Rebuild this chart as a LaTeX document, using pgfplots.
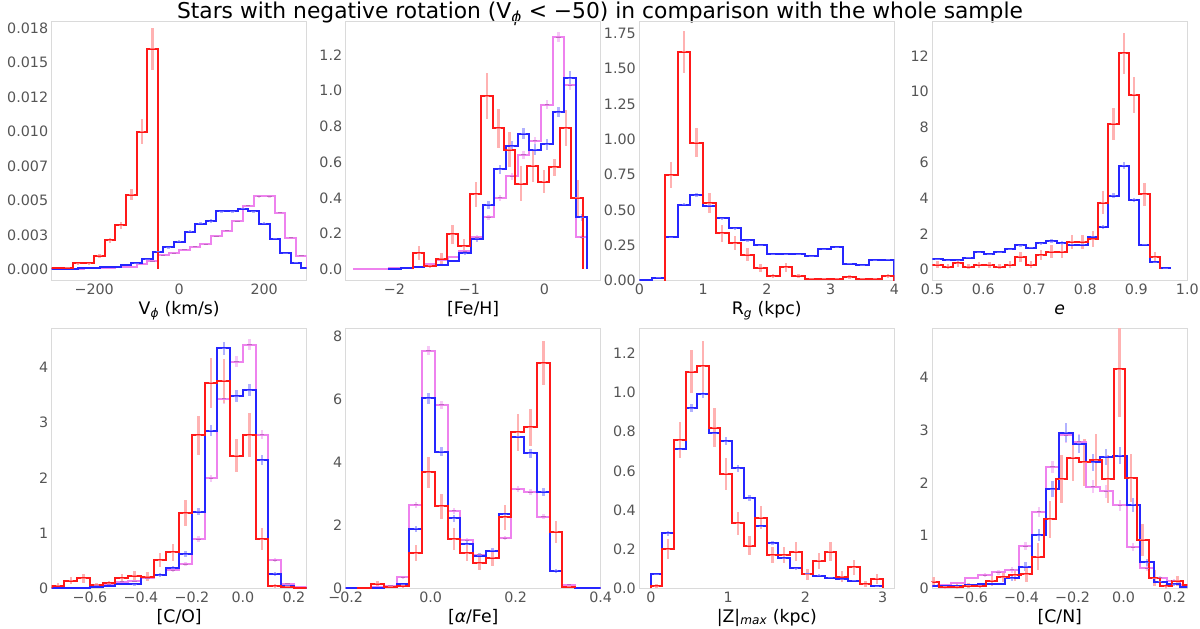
\documentclass[border=0pt]{standalone}
\usepackage{fontspec}
\setmainfont{DejaVu Sans}
\usepackage{pgfplots}
\pgfplotsset{compat=1.18}
\definecolor{vio}{HTML}{EE82EE}
\definecolor{tickc}{HTML}{555555}
\definecolor{spine}{HTML}{DADADA}
\colorlet{lred}{red!90!white}
\colorlet{lblue}{blue!85!white}
\colorlet{erred}{red!30!white}
\colorlet{erblue}{blue!30!white}
\colorlet{ervio}{vio!45!white}
\colorlet{mkred}{red!55!white}
\colorlet{mkblue}{blue!60!white}
\colorlet{mkvio}{vio!80!black}
\pgfplotsset{
  panel/.style={scale only axis, width=255pt, anchor=south west,
    axis line style={draw=spine, line width=1pt},
    major tick length=0pt, tick style={draw=none},
    scaled x ticks=false, scaled y ticks=false,
    tick label style={font=\fontsize{14.3pt}{17pt}\selectfont, text=tickc},
    xlabel style={font=\fontsize{17.3pt}{21pt}\selectfont, at={(axis description cs:0.5,-0.131)}, anchor=base}},
  hr/.style={draw=lred, line width=2pt, mark=none, sharp plot},
  hb/.style={draw=lblue, line width=2pt, mark=none, sharp plot},
  hv/.style={draw=vio, line width=2pt, mark=none, sharp plot},
  er/.style 2 args={only marks, mark=-, mark size=2.2pt, mark options={draw=#2, line width=1pt},
    error bars/y dir=both, error bars/y explicit, error bars/error mark=none,
    error bars/error bar style={draw=#1, line width=2.4pt}},
  err/.style={er={erred}{mkred}},
  erb/.style={er={erblue}{mkblue}},
  erv/.style={er={ervio}{mkvio}},
}
\begin{document}
\begin{tikzpicture}
\useasboundingbox (0,0) rectangle (1200pt,629pt);
\node[anchor=base, font=\fontsize{21.8pt}{25pt}\selectfont] at (600pt,610.7pt) {Stars with negative rotation (V\textsubscript{\textit{ϕ}} < −50) in comparison with the whole sample};

% ---------- Panel 1: V_phi
\begin{axis}[panel, height=259pt, at={(51.7pt,348.3pt)},
  xmin=-300, xmax=300, ymin=-0.00083, ymax=0.01798,
  xtick={-200,0,200}, xticklabels={−200,0,200},
  ytick={0,0.0025,0.005,0.0075,0.01,0.0125,0.015,0.0175},
  yticklabels={0.000,0.003,0.005,0.007,0.010,0.012,0.015,0.018},
  xlabel={V\textsubscript{\textit{ϕ}} (km/s)}]
\addplot[erv] coordinates {(-62.5,0.0006)+-(0,0.00004)(-37.5,0.0010)+-(0,0.00005)(-12.5,0.00116)+-(0,0.00005)(12.5,0.0014)+-(0,0.00006)(37.5,0.00165)+-(0,0.00006)(62.5,0.0018)+-(0,0.00006)(87.5,0.0024)+-(0,0.00007)(112.5,0.0028)+-(0,0.00007)(137.5,0.0035)+-(0,0.00008)(162.5,0.0046)+-(0,0.00009)(187.5,0.0053)+-(0,0.0001)(212.5,0.0053)+-(0,0.0001)(237.5,0.0041)+-(0,0.00009)(262.5,0.0023)+-(0,0.00007)(287.5,0.00097)+-(0,0.00005)};
\addplot[erb] coordinates {(-100,0.00045)+-(0,0.00005)(-75,0.00073)+-(0,0.00006)(-50,0.00128)+-(0,0.00008)(-25,0.0016)+-(0,0.0001)(0,0.002)+-(0,0.0001)(25,0.00274)+-(0,0.00012)(50,0.0033)+-(0,0.00012)(75,0.0035)+-(0,0.00012)(100,0.0042)+-(0,0.00013)(125,0.0042)+-(0,0.00013)(150,0.0044)+-(0,0.00013)(175,0.0042)+-(0,0.00013)(200,0.0033)+-(0,0.00012)(225,0.0022)+-(0,0.0001)(250,0.00116)+-(0,0.00008)(275,0.00048)+-(0,0.00005)};
\addplot[err] coordinates {(-262.5,0.0001)+-(0,0.00005)(-237.5,0.00044)+-(0,0.0001)(-212.5,0.00044)+-(0,0.0001)(-187.5,0.00097)+-(0,0.00015)(-162.5,0.0021)+-(0,0.0002)(-137.5,0.0032)+-(0,0.00025)(-112.5,0.0054)+-(0,0.0004)(-87.5,0.0100)+-(0,0.0009)(-62.5,0.0160)+-(0,0.0015)};
\addplot[hv] coordinates {(-325,0)(-325,0.00002)(-275,0.00002)(-275,0.00003)(-250,0.00003)(-250,0.00004)(-225,0.00004)(-225,0.00006)(-200,0.00006)(-200,0.00008)(-175,0.00008)(-175,0.0001)(-150,0.0001)(-150,0.00015)(-125,0.00015)(-125,0.0002)(-100,0.0002)(-100,0.0004)(-75,0.0004)(-75,0.0006)(-50,0.0006)(-50,0.0010)(-25,0.0010)(-25,0.00116)(0,0.00116)(0,0.0014)(25,0.0014)(25,0.00165)(50,0.00165)(50,0.0018)(75,0.0018)(75,0.0024)(100,0.0024)(100,0.0028)(125,0.0028)(125,0.0035)(150,0.0035)(150,0.0046)(175,0.0046)(175,0.0053)(225,0.0053)(225,0.0041)(250,0.0041)(250,0.0023)(275,0.0023)(275,0.00097)(300,0.00097)(300,0)};
\addplot[hb] coordinates {(-312.5,0)(-312.5,0.00002)(-287.5,0.00002)(-287.5,0.00003)(-262.5,0.00003)(-262.5,0.00005)(-237.5,0.00005)(-237.5,0.00007)(-212.5,0.00007)(-212.5,0.0001)(-187.5,0.0001)(-187.5,0.00013)(-162.5,0.00013)(-162.5,0.0002)(-137.5,0.0002)(-137.5,0.0003)(-112.5,0.0003)(-112.5,0.00045)(-87.5,0.00045)(-87.5,0.00073)(-62.5,0.00073)(-62.5,0.00128)(-37.5,0.00128)(-37.5,0.0016)(-12.5,0.0016)(-12.5,0.0020)(12.5,0.0020)(12.5,0.00274)(37.5,0.00274)(37.5,0.0033)(62.5,0.0033)(62.5,0.0035)(87.5,0.0035)(87.5,0.0042)(137.5,0.0042)(137.5,0.0044)(162.5,0.0044)(162.5,0.0042)(187.5,0.0042)(187.5,0.0033)(212.5,0.0033)(212.5,0.0022)(237.5,0.0022)(237.5,0.00116)(262.5,0.00116)(262.5,0.00048)(287.5,0.00048)(287.5,0.0001)(312.5,0.0001)(312.5,0)};
\addplot[hr] coordinates {(-325,0)(-325,0.0001)(-250,0.0001)(-250,0.00044)(-200,0.00044)(-200,0.00097)(-175,0.00097)(-175,0.0021)(-150,0.0021)(-150,0.0032)(-125,0.0032)(-125,0.0054)(-100,0.0054)(-100,0.0100)(-75,0.0100)(-75,0.0160)(-50,0.0160)(-50,0)};
\end{axis}

% ---------- Panel 2: [Fe/H]
\begin{axis}[panel, height=259pt, at={(345.7pt,348.3pt)},
  xmin=-2.65, xmax=0.75, ymin=-0.064, ymax=1.386,
  xtick={-2,-1,0}, xticklabels={−2,−1,0},
  ytick={0,0.2,0.4,0.6,0.8,1.0,1.2}, yticklabels={0.0,0.2,0.4,0.6,0.8,1.0,1.2},
  xlabel={[Fe/H]}]
\addplot[erv] coordinates {(-1.057,0.10)+-(0,0.01)(-0.902,0.18)+-(0,0.012)(-0.746,0.29)+-(0,0.015)(-0.590,0.40)+-(0,0.018)(-0.435,0.52)+-(0,0.02)(-0.279,0.64)+-(0,0.022)(-0.124,0.72)+-(0,0.022)(0.032,0.92)+-(0,0.025)(0.188,1.30)+-(0,0.03)(0.343,1.03)+-(0,0.025)(0.497,0.18)+-(0,0.01)};
\addplot[erb] coordinates {(-1.057,0.09)+-(0,0.01)(-0.902,0.17)+-(0,0.015)(-0.746,0.36)+-(0,0.02)(-0.590,0.56)+-(0,0.025)(-0.435,0.69)+-(0,0.03)(-0.279,0.76)+-(0,0.03)(-0.124,0.67)+-(0,0.03)(0.032,0.70)+-(0,0.03)(0.188,0.88)+-(0,0.03)(0.343,1.07)+-(0,0.04)(0.497,0.29)+-(0,0.02)};
\addplot[err] coordinates {(-1.675,0.09)+-(0,0.04)(-1.525,0.02)+-(0,0.015)(-1.375,0.06)+-(0,0.03)(-1.225,0.195)+-(0,0.055)(-1.07,0.13)+-(0,0.04)(-0.915,0.42)+-(0,0.07)(-0.765,0.97)+-(0,0.13)(-0.615,0.79)+-(0,0.11)(-0.465,0.67)+-(0,0.1)(-0.31,0.48)+-(0,0.1)(-0.155,0.58)+-(0,0.09)(-0.01,0.49)+-(0,0.065)(0.135,0.57)+-(0,0.05)(0.285,0.79)+-(0,0.1)(0.44,0.40)+-(0,0.1)};
\addplot[hv] coordinates {(-2.535,0)(-2.535,0.003)(-2.068,0.003)(-2.068,0.005)(-1.913,0.005)(-1.913,0.007)(-1.757,0.007)(-1.757,0.01)(-1.602,0.01)(-1.602,0.03)(-1.446,0.03)(-1.446,0.05)(-1.291,0.05)(-1.291,0.07)(-1.135,0.07)(-1.135,0.10)(-0.980,0.10)(-0.980,0.18)(-0.824,0.18)(-0.824,0.29)(-0.668,0.29)(-0.668,0.40)(-0.513,0.40)(-0.513,0.52)(-0.357,0.52)(-0.357,0.64)(-0.202,0.64)(-0.202,0.72)(-0.046,0.72)(-0.046,0.92)(0.110,0.92)(0.110,1.30)(0.265,1.30)(0.265,1.03)(0.421,1.03)(0.421,0.18)(0.572,0.18)(0.572,0)};
\addplot[hb] coordinates {(-2.068,0)(-2.068,0.003)(-1.913,0.003)(-1.913,0.005)(-1.757,0.005)(-1.757,0.01)(-1.602,0.01)(-1.602,0.02)(-1.446,0.02)(-1.446,0.025)(-1.291,0.025)(-1.291,0.045)(-1.135,0.045)(-1.135,0.09)(-0.980,0.09)(-0.980,0.17)(-0.824,0.17)(-0.824,0.36)(-0.668,0.36)(-0.668,0.56)(-0.513,0.56)(-0.513,0.69)(-0.357,0.69)(-0.357,0.76)(-0.202,0.76)(-0.202,0.67)(-0.046,0.67)(-0.046,0.70)(0.110,0.70)(0.110,0.88)(0.265,0.88)(0.265,1.07)(0.421,1.07)(0.421,0.29)(0.572,0.29)(0.572,0)};
\addplot[hr] coordinates {(-1.75,0)(-1.75,0.09)(-1.60,0.09)(-1.60,0.02)(-1.45,0.02)(-1.45,0.06)(-1.30,0.06)(-1.30,0.195)(-1.15,0.195)(-1.15,0.13)(-0.99,0.13)(-0.99,0.42)(-0.84,0.42)(-0.84,0.97)(-0.69,0.97)(-0.69,0.79)(-0.54,0.79)(-0.54,0.67)(-0.39,0.67)(-0.39,0.48)(-0.23,0.48)(-0.23,0.58)(-0.08,0.58)(-0.08,0.49)(0.06,0.49)(0.06,0.57)(0.21,0.57)(0.21,0.79)(0.36,0.79)(0.36,0.40)(0.52,0.40)(0.52,0)};
\end{axis}

% ---------- Panel 3: R_g
\begin{axis}[panel, height=259pt, at={(639.3pt,348.3pt)},
  xmin=0, xmax=4, ymin=0, ymax=1.832,
  xtick={0,1,2,3,4}, xticklabels={0,1,2,3,4},
  ytick={0,0.25,0.5,0.75,1,1.25,1.5,1.75}, yticklabels={0.00,0.25,0.50,0.75,1.00,1.25,1.50,1.75},
  xlabel={R\textsubscript{\textit{g}} (kpc)}]
\addplot[erb] coordinates {(0.3,0.021)+-(0,0.004)(0.5,0.309)+-(0,0.01)(0.7,0.537)+-(0,0.012)(0.9,0.605)+-(0,0.014)(1.1,0.53)+-(0,0.012)(1.3,0.443)+-(0,0.011)(1.5,0.372)+-(0,0.01)(1.7,0.285)+-(0,0.009)(1.9,0.25)+-(0,0.008)(2.1,0.188)+-(0,0.007)(2.3,0.188)+-(0,0.007)(2.5,0.188)+-(0,0.007)(2.7,0.172)+-(0,0.007)(2.9,0.224)+-(0,0.008)(3.1,0.238)+-(0,0.008)(3.3,0.12)+-(0,0.006)(3.5,0.111)+-(0,0.006)(3.7,0.144)+-(0,0.006)(3.9,0.148)+-(0,0.006)};
\addplot[err] coordinates {(0.5,0.747)+-(0,0.09)(0.7,1.618)+-(0,0.15)(0.9,0.977)+-(0,0.1)(1.1,0.549)+-(0,0.07)(1.3,0.337)+-(0,0.06)(1.5,0.266)+-(0,0.05)(1.7,0.184)+-(0,0.045)(1.9,0.09)+-(0,0.03)(2.1,0.031)+-(0,0.015)(2.3,0.094)+-(0,0.03)(2.5,0.035)+-(0,0.015)(2.7,0.012)+-(0,0.01)(2.9,0.012)+-(0,0.01)(3.1,0.012)+-(0,0.01)(3.3,0.026)+-(0,0.012)(3.5,0.012)+-(0,0.01)(3.7,0.012)+-(0,0.01)(3.9,0.031)+-(0,0.015)};
\addplot[hb] coordinates {(0,0)(0,0.003)(0.2,0.003)(0.2,0.021)(0.4,0.021)(0.4,0.309)(0.6,0.309)(0.6,0.537)(0.8,0.537)(0.8,0.605)(1.0,0.605)(1.0,0.53)(1.2,0.53)(1.2,0.443)(1.4,0.443)(1.4,0.372)(1.6,0.372)(1.6,0.285)(1.8,0.285)(1.8,0.25)(2.0,0.25)(2.0,0.188)(2.6,0.188)(2.6,0.172)(2.8,0.172)(2.8,0.224)(3.0,0.224)(3.0,0.238)(3.2,0.238)(3.2,0.12)(3.4,0.12)(3.4,0.111)(3.6,0.111)(3.6,0.144)(3.8,0.144)(3.8,0.148)(4.0,0.148)(4.0,0)};
\addplot[hr] coordinates {(0.4,0)(0.4,0.747)(0.6,0.747)(0.6,1.618)(0.8,1.618)(0.8,0.977)(1.0,0.977)(1.0,0.549)(1.2,0.549)(1.2,0.337)(1.4,0.337)(1.4,0.266)(1.6,0.266)(1.6,0.184)(1.8,0.184)(1.8,0.09)(2.0,0.09)(2.0,0.031)(2.2,0.031)(2.2,0.094)(2.4,0.094)(2.4,0.035)(2.6,0.035)(2.6,0.012)(3.2,0.012)(3.2,0.026)(3.4,0.026)(3.4,0.012)(3.8,0.012)(3.8,0.031)(4.0,0.031)(4.0,0)};
\end{axis}

% ---------- Panel 4: e
\begin{axis}[panel, height=259pt, at={(932.3pt,348.3pt)},
  xmin=0.5, xmax=1.0, ymin=-0.64, ymax=13.93,
  xtick={0.5,0.6,0.7,0.8,0.9,1.0}, xticklabels={0.5,0.6,0.7,0.8,0.9,1.0},
  ytick={0,2,4,6,8,10,12}, yticklabels={0,2,4,6,8,10,12},
  xlabel={\textit{e}}]
\addplot[erb] coordinates {(0.5103,0.58)+-(0,0.05)(0.5306,0.52)+-(0,0.05)(0.5509,0.52)+-(0,0.05)(0.5712,0.65)+-(0,0.06)(0.5915,0.96)+-(0,0.07)(0.6118,0.85)+-(0,0.07)(0.6321,0.96)+-(0,0.07)(0.6524,1.14)+-(0,0.08)(0.6727,1.35)+-(0,0.08)(0.6930,1.2)+-(0,0.08)(0.7133,1.46)+-(0,0.09)(0.7336,1.59)+-(0,0.09)(0.7539,1.48)+-(0,0.09)(0.7742,1.37)+-(0,0.08)(0.7945,1.37)+-(0,0.08)(0.8148,1.84)+-(0,0.1)(0.8351,2.40)+-(0,0.11)(0.8554,4.15)+-(0,0.15)(0.8757,5.83)+-(0,0.18)(0.8960,3.9)+-(0,0.14)(0.9163,1.37)+-(0,0.08)(0.9366,0.39)+-(0,0.04)(0.9569,0.07)+-(0,0.02)};
\addplot[err] coordinates {(0.5103,0.25)+-(0,0.2)(0.5306,0.15)+-(0,0.15)(0.5509,0.35)+-(0,0.2)(0.5712,0.15)+-(0,0.15)(0.5915,0.25)+-(0,0.15)(0.6118,0.25)+-(0,0.15)(0.6321,0.15)+-(0,0.15)(0.6524,0.25)+-(0,0.2)(0.6727,0.7)+-(0,0.3)(0.6930,0.25)+-(0,0.2)(0.7133,0.8)+-(0,0.3)(0.7336,1.0)+-(0,0.35)(0.7539,1.0)+-(0,0.35)(0.7742,1.55)+-(0,0.4)(0.7945,1.55)+-(0,0.4)(0.8148,1.7)+-(0,0.45)(0.8351,3.75)+-(0,0.65)(0.8554,8.18)+-(0,0.9)(0.8757,12.16)+-(0,1.15)(0.8960,9.81)+-(0,1.0)(0.9163,4.22)+-(0,0.65)(0.9366,0.675)+-(0,0.3)};
\addplot[hb] coordinates {(0.4798,0)(0.4798,0.58)(0.5204,0.58)(0.5204,0.52)(0.5610,0.52)(0.5610,0.65)(0.5813,0.65)(0.5813,0.96)(0.6016,0.96)(0.6016,0.85)(0.6219,0.85)(0.6219,0.96)(0.6422,0.96)(0.6422,1.14)(0.6625,1.14)(0.6625,1.35)(0.6828,1.35)(0.6828,1.2)(0.7031,1.2)(0.7031,1.46)(0.7234,1.46)(0.7234,1.59)(0.7437,1.59)(0.7437,1.48)(0.7640,1.48)(0.7640,1.37)(0.8046,1.37)(0.8046,1.84)(0.8249,1.84)(0.8249,2.40)(0.8452,2.40)(0.8452,4.15)(0.8655,4.15)(0.8655,5.83)(0.8858,5.83)(0.8858,3.9)(0.9061,3.9)(0.9061,1.37)(0.9264,1.37)(0.9264,0.39)(0.9467,0.39)(0.9467,0.07)(0.9670,0.07)(0.9670,0)};
\addplot[hr] coordinates {(0.4798,0)(0.4798,0.25)(0.5204,0.25)(0.5204,0.15)(0.5407,0.15)(0.5407,0.35)(0.5610,0.35)(0.5610,0.15)(0.5813,0.15)(0.5813,0.25)(0.6219,0.25)(0.6219,0.15)(0.6422,0.15)(0.6422,0.25)(0.6625,0.25)(0.6625,0.7)(0.6828,0.7)(0.6828,0.25)(0.7031,0.25)(0.7031,0.8)(0.7234,0.8)(0.7234,1.0)(0.7640,1.0)(0.7640,1.55)(0.8046,1.55)(0.8046,1.7)(0.8249,1.7)(0.8249,3.75)(0.8452,3.75)(0.8452,8.18)(0.8655,8.18)(0.8655,12.16)(0.8858,12.16)(0.8858,9.81)(0.9061,9.81)(0.9061,4.22)(0.9264,4.22)(0.9264,0.675)(0.9467,0.675)(0.9467,0)};
\end{axis}

% ---------- Panel 5: [C/O]
\begin{axis}[panel, height=260pt, at={(51.7pt,40.7pt)},
  xmin=-0.75, xmax=0.25, ymin=0, ymax=4.71,
  xtick={-0.6,-0.4,-0.2,0,0.2}, xticklabels={−0.6,−0.4,−0.2,0.0,0.2},
  ytick={0,1,2,3,4}, yticklabels={0,1,2,3,4},
  xlabel={[C/O]}]
\addplot[erv] coordinates {(-0.575,0.05)+-(0,0.02)(-0.525,0.07)+-(0,0.02)(-0.475,0.12)+-(0,0.02)(-0.425,0.13)+-(0,0.02)(-0.375,0.18)+-(0,0.03)(-0.325,0.24)+-(0,0.03)(-0.275,0.33)+-(0,0.03)(-0.225,0.44)+-(0,0.04)(-0.175,0.89)+-(0,0.05)(-0.125,1.99)+-(0,0.07)(-0.075,3.43)+-(0,0.09)(-0.025,4.10)+-(0,0.1)(0.025,4.41)+-(0,0.1)(0.075,2.78)+-(0,0.08)(0.125,0.51)+-(0,0.04)(0.175,0.08)+-(0,0.02)};
\addplot[erb] coordinates {(-0.425,0.07)+-(0,0.02)(-0.375,0.21)+-(0,0.03)(-0.325,0.24)+-(0,0.03)(-0.275,0.36)+-(0,0.04)(-0.225,0.62)+-(0,0.05)(-0.175,1.39)+-(0,0.07)(-0.125,2.85)+-(0,0.1)(-0.075,4.35)+-(0,0.12)(-0.025,3.48)+-(0,0.11)(0.025,3.59)+-(0,0.11)(0.075,2.32)+-(0,0.09)(0.125,0.26)+-(0,0.03)(0.175,0.05)+-(0,0.02)};
\addplot[err] coordinates {(-0.725,0.05)+-(0,0.04)(-0.675,0.14)+-(0,0.07)(-0.625,0.18)+-(0,0.08)(-0.575,0.06)+-(0,0.04)(-0.525,0.09)+-(0,0.05)(-0.475,0.18)+-(0,0.07)(-0.425,0.23)+-(0,0.08)(-0.375,0.21)+-(0,0.08)(-0.325,0.51)+-(0,0.13)(-0.275,0.65)+-(0,0.15)(-0.225,1.36)+-(0,0.24)(-0.175,2.77)+-(0,0.35)(-0.125,3.72)+-(0,0.45)(-0.075,3.76)+-(0,0.4)(-0.025,2.40)+-(0,0.3)(0.025,2.77)+-(0,0.4)(0.075,0.89)+-(0,0.2)(0.125,0.04)+-(0,0.03)(0.175,0.03)+-(0,0.02)};
\addplot[hv] coordinates {(-0.75,0)(-0.75,0.01)(-0.60,0.01)(-0.60,0.05)(-0.55,0.05)(-0.55,0.07)(-0.50,0.07)(-0.50,0.12)(-0.45,0.12)(-0.45,0.13)(-0.40,0.13)(-0.40,0.18)(-0.35,0.18)(-0.35,0.24)(-0.30,0.24)(-0.30,0.33)(-0.25,0.33)(-0.25,0.44)(-0.20,0.44)(-0.20,0.89)(-0.15,0.89)(-0.15,1.99)(-0.10,1.99)(-0.10,3.43)(-0.05,3.43)(-0.05,4.10)(0.00,4.10)(0.00,4.41)(0.05,4.41)(0.05,2.78)(0.10,2.78)(0.10,0.51)(0.15,0.51)(0.15,0.08)(0.20,0.08)(0.20,0.02)(0.25,0.02)(0.25,0)};
\addplot[hb] coordinates {(-0.75,0)(-0.75,0.01)(-0.60,0.01)(-0.60,0.03)(-0.55,0.03)(-0.55,0.05)(-0.50,0.05)(-0.50,0.08)(-0.45,0.08)(-0.45,0.07)(-0.40,0.07)(-0.40,0.21)(-0.35,0.21)(-0.35,0.24)(-0.30,0.24)(-0.30,0.36)(-0.25,0.36)(-0.25,0.62)(-0.20,0.62)(-0.20,1.39)(-0.15,1.39)(-0.15,2.85)(-0.10,2.85)(-0.10,4.35)(-0.05,4.35)(-0.05,3.48)(0.00,3.48)(0.00,3.59)(0.05,3.59)(0.05,2.32)(0.10,2.32)(0.10,0.26)(0.15,0.26)(0.15,0.05)(0.20,0.05)(0.20,0.01)(0.25,0.01)(0.25,0)};
\addplot[hr] coordinates {(-0.75,0)(-0.75,0.05)(-0.70,0.05)(-0.70,0.14)(-0.65,0.14)(-0.65,0.18)(-0.60,0.18)(-0.60,0.06)(-0.55,0.06)(-0.55,0.09)(-0.50,0.09)(-0.50,0.18)(-0.45,0.18)(-0.45,0.23)(-0.40,0.23)(-0.40,0.21)(-0.35,0.21)(-0.35,0.51)(-0.30,0.51)(-0.30,0.65)(-0.25,0.65)(-0.25,1.36)(-0.20,1.36)(-0.20,2.77)(-0.15,2.77)(-0.15,3.72)(-0.10,3.72)(-0.10,3.76)(-0.05,3.76)(-0.05,2.40)(0.00,2.40)(0.00,2.77)(0.05,2.77)(0.05,0.89)(0.10,0.89)(0.10,0.04)(0.15,0.04)(0.15,0.03)(0.20,0.03)(0.20,0.01)(0.25,0.01)(0.25,0)};
\end{axis}

% ---------- Panel 6: [alpha/Fe]
\begin{axis}[panel, height=260pt, at={(345.7pt,40.7pt)},
  xmin=-0.2, xmax=0.4, ymin=0, ymax=8.26,
  xtick={-0.2,0,0.2,0.4}, xticklabels={−0.2,0.0,0.2,0.4},
  ytick={0,2,4,6,8}, yticklabels={0,2,4,6,8},
  xlabel={[\textit{α}/Fe]}]
\addplot[erv] coordinates {(-0.095,0.08)+-(0,0.03)(-0.065,0.35)+-(0,0.05)(-0.035,2.65)+-(0,0.1)(-0.005,7.55)+-(0,0.15)(0.025,5.83)+-(0,0.13)(0.055,2.46)+-(0,0.09)(0.085,1.52)+-(0,0.07)(0.115,1.06)+-(0,0.06)(0.145,0.97)+-(0,0.06)(0.175,1.59)+-(0,0.07)(0.205,3.15)+-(0,0.1)(0.235,3.05)+-(0,0.1)(0.265,2.28)+-(0,0.08)(0.295,0.55)+-(0,0.04)(0.325,0.12)+-(0,0.02)};
\addplot[erb] coordinates {(-0.065,0.13)+-(0,0.03)(-0.035,1.89)+-(0,0.1)(-0.005,6.04)+-(0,0.18)(0.025,4.34)+-(0,0.15)(0.055,2.22)+-(0,0.11)(0.085,1.40)+-(0,0.09)(0.115,1.03)+-(0,0.08)(0.145,1.2)+-(0,0.08)(0.175,2.35)+-(0,0.11)(0.205,4.82)+-(0,0.16)(0.235,4.29)+-(0,0.15)(0.265,3.07)+-(0,0.13)(0.295,0.55)+-(0,0.05)(0.325,0.05)+-(0,0.02)};
\addplot[err] coordinates {(-0.125,0.14)+-(0,0.1)(-0.095,0.05)+-(0,0.05)(-0.065,0.08)+-(0,0.06)(-0.035,1.11)+-(0,0.25)(-0.005,3.68)+-(0,0.5)(0.025,2.60)+-(0,0.4)(0.055,1.56)+-(0,0.35)(0.085,1.12)+-(0,0.25)(0.115,0.79)+-(0,0.2)(0.145,0.97)+-(0,0.25)(0.175,2.25)+-(0,0.4)(0.205,4.95)+-(0,0.6)(0.235,5.11)+-(0,0.6)(0.265,7.15)+-(0,0.7)(0.295,1.80)+-(0,0.35)(0.325,0.05)+-(0,0.05)};
\addplot[hv] coordinates {(-0.20,0)(-0.20,0.005)(-0.17,0.005)(-0.17,0.01)(-0.14,0.01)(-0.14,0.05)(-0.11,0.05)(-0.11,0.08)(-0.08,0.08)(-0.08,0.35)(-0.05,0.35)(-0.05,2.65)(-0.02,2.65)(-0.02,7.55)(0.01,7.55)(0.01,5.83)(0.04,5.83)(0.04,2.46)(0.07,2.46)(0.07,1.52)(0.10,1.52)(0.10,1.06)(0.13,1.06)(0.13,0.97)(0.16,0.97)(0.16,1.59)(0.19,1.59)(0.19,3.15)(0.22,3.15)(0.22,3.05)(0.25,3.05)(0.25,2.28)(0.28,2.28)(0.28,0.55)(0.31,0.55)(0.31,0.12)(0.34,0.12)(0.34,0.02)(0.37,0.02)(0.37,0.01)(0.40,0.01)(0.40,0)};
\addplot[hb] coordinates {(-0.20,0)(-0.20,0.005)(-0.17,0.005)(-0.17,0.01)(-0.14,0.01)(-0.14,0.02)(-0.11,0.02)(-0.11,0.03)(-0.08,0.03)(-0.08,0.13)(-0.05,0.13)(-0.05,1.89)(-0.02,1.89)(-0.02,6.04)(0.01,6.04)(0.01,4.34)(0.04,4.34)(0.04,2.22)(0.07,2.22)(0.07,1.40)(0.10,1.40)(0.10,1.03)(0.13,1.03)(0.13,1.2)(0.16,1.2)(0.16,2.35)(0.19,2.35)(0.19,4.82)(0.22,4.82)(0.22,4.29)(0.25,4.29)(0.25,3.07)(0.28,3.07)(0.28,0.55)(0.31,0.55)(0.31,0.05)(0.34,0.05)(0.34,0.01)(0.40,0.01)(0.40,0)};
\addplot[hr] coordinates {(-0.17,0)(-0.17,0.01)(-0.14,0.01)(-0.14,0.14)(-0.11,0.14)(-0.11,0.05)(-0.08,0.05)(-0.08,0.08)(-0.05,0.08)(-0.05,1.11)(-0.02,1.11)(-0.02,3.68)(0.01,3.68)(0.01,2.60)(0.04,2.60)(0.04,1.56)(0.07,1.56)(0.07,1.12)(0.10,1.12)(0.10,0.79)(0.13,0.79)(0.13,0.97)(0.16,0.97)(0.16,2.25)(0.19,2.25)(0.19,4.95)(0.22,4.95)(0.22,5.11)(0.25,5.11)(0.25,7.15)(0.28,7.15)(0.28,1.80)(0.31,1.80)(0.31,0.05)(0.34,0.05)(0.34,0)};
\end{axis}

% ---------- Panel 7: |Z|max
\begin{axis}[panel, height=260pt, at={(639.3pt,40.7pt)},
  xmin=-0.15, xmax=3.15, ymin=0, ymax=1.328,
  xtick={0,1,2,3}, xticklabels={0,1,2,3},
  ytick={0,0.2,0.4,0.6,0.8,1.0,1.2}, yticklabels={0.0,0.2,0.4,0.6,0.8,1.0,1.2},
  xlabel={|Z|\textsubscript{\textit{max}} (kpc)}]
\addplot[erb] coordinates {(0.075,0.071)+-(0,0.005)(0.225,0.281)+-(0,0.012)(0.375,0.71)+-(0,0.018)(0.525,0.919)+-(0,0.02)(0.675,0.992)+-(0,0.022)(0.825,0.791)+-(0,0.02)(0.975,0.752)+-(0,0.02)(1.125,0.613)+-(0,0.018)(1.275,0.46)+-(0,0.015)(1.425,0.318)+-(0,0.013)(1.575,0.23)+-(0,0.011)(1.725,0.153)+-(0,0.009)(1.875,0.102)+-(0,0.007)(2.025,0.075)+-(0,0.006)(2.175,0.065)+-(0,0.006)(2.325,0.055)+-(0,0.005)(2.475,0.045)+-(0,0.005)(2.625,0.038)+-(0,0.004)(2.775,0.02)+-(0,0.003)(2.925,0.01)+-(0,0.002)};
\addplot[err] coordinates {(0.075,0.01)+-(0,0.01)(0.225,0.20)+-(0,0.05)(0.375,0.757)+-(0,0.09)(0.525,1.106)+-(0,0.11)(0.675,1.135)+-(0,0.13)(0.825,0.82)+-(0,0.1)(0.975,0.584)+-(0,0.08)(1.125,0.332)+-(0,0.06)(1.275,0.218)+-(0,0.05)(1.425,0.361)+-(0,0.06)(1.575,0.17)+-(0,0.04)(1.725,0.17)+-(0,0.04)(1.875,0.187)+-(0,0.05)(2.025,0.071)+-(0,0.03)(2.175,0.141)+-(0,0.04)(2.325,0.187)+-(0,0.05)(2.475,0.06)+-(0,0.03)(2.625,0.107)+-(0,0.04)(2.775,0.02)+-(0,0.015)(2.925,0.048)+-(0,0.025)};
\addplot[hb] coordinates {(0,0)(0,0.071)(0.15,0.071)(0.15,0.281)(0.30,0.281)(0.30,0.71)(0.45,0.71)(0.45,0.919)(0.60,0.919)(0.60,0.992)(0.75,0.992)(0.75,0.791)(0.90,0.791)(0.90,0.752)(1.05,0.752)(1.05,0.613)(1.20,0.613)(1.20,0.46)(1.35,0.46)(1.35,0.318)(1.50,0.318)(1.50,0.23)(1.65,0.23)(1.65,0.153)(1.80,0.153)(1.80,0.102)(1.95,0.102)(1.95,0.075)(2.10,0.075)(2.10,0.065)(2.25,0.065)(2.25,0.055)(2.40,0.055)(2.40,0.045)(2.55,0.045)(2.55,0.038)(2.70,0.038)(2.70,0.02)(2.85,0.02)(2.85,0.01)(3.00,0.01)(3.00,0)};
\addplot[hr] coordinates {(0,0)(0,0.01)(0.15,0.01)(0.15,0.20)(0.30,0.20)(0.30,0.757)(0.45,0.757)(0.45,1.106)(0.60,1.106)(0.60,1.135)(0.75,1.135)(0.75,0.82)(0.90,0.82)(0.90,0.584)(1.05,0.584)(1.05,0.332)(1.20,0.332)(1.20,0.218)(1.35,0.218)(1.35,0.361)(1.50,0.361)(1.50,0.17)(1.80,0.17)(1.80,0.187)(1.95,0.187)(1.95,0.071)(2.10,0.071)(2.10,0.141)(2.25,0.141)(2.25,0.187)(2.40,0.187)(2.40,0.06)(2.55,0.06)(2.55,0.107)(2.70,0.107)(2.70,0.02)(2.85,0.02)(2.85,0.048)(3.00,0.048)(3.00,0)};
\end{axis}

% ---------- Panel 8: [C/N]
\begin{axis}[panel, height=260pt, at={(932.3pt,40.7pt)},
  xmin=-0.75, xmax=0.25, ymin=0, ymax=4.93,
  xtick={-0.6,-0.4,-0.2,0,0.2}, xticklabels={−0.6,−0.4,−0.2,0.0,0.2},
  ytick={0,1,2,3,4}, yticklabels={0,1,2,3,4},
  xlabel={[C/N]}]
\addplot[erv] coordinates {(-0.5439,0.25)+-(0,0.04)(-0.4910,0.3)+-(0,0.05)(-0.4381,0.35)+-(0,0.06)(-0.3852,0.80)+-(0,0.08)(-0.3323,1.45)+-(0,0.1)(-0.2794,2.30)+-(0,0.12)(-0.2265,2.90)+-(0,0.14)(-0.1736,2.78)+-(0,0.14)(-0.1207,1.93)+-(0,0.12)(-0.0678,1.84)+-(0,0.12)(-0.0149,1.57)+-(0,0.11)(0.0381,0.78)+-(0,0.08)(0.0910,0.38)+-(0,0.06)(0.1439,0.2)+-(0,0.04)(0.1968,0.14)+-(0,0.03)};
\addplot[erb] coordinates {(-0.4381,0.19)+-(0,0.05)(-0.3852,0.41)+-(0,0.08)(-0.3323,1.01)+-(0,0.12)(-0.2794,1.88)+-(0,0.15)(-0.2265,2.95)+-(0,0.18)(-0.1736,2.74)+-(0,0.17)(-0.1207,2.39)+-(0,0.16)(-0.0678,2.49)+-(0,0.16)(-0.0149,2.51)+-(0,0.16)(0.0381,1.58)+-(0,0.13)(0.0910,0.49)+-(0,0.07)(0.1439,0.125)+-(0,0.04)(0.1968,0.075)+-(0,0.03)};
\addplot[err] coordinates {(-0.7449,0.12)+-(0,0.1)(-0.6994,0.03)+-(0,0.05)(-0.6538,0.03)+-(0,0.05)(-0.6083,0.05)+-(0,0.05)(-0.5627,0.05)+-(0,0.05)(-0.5171,0.14)+-(0,0.1)(-0.4716,0.21)+-(0,0.1)(-0.4260,0.25)+-(0,0.12)(-0.3805,0.27)+-(0,0.15)(-0.3349,0.60)+-(0,0.25)(-0.2894,1.31)+-(0,0.35)(-0.2438,2.07)+-(0,0.45)(-0.1983,2.48)+-(0,0.45)(-0.1527,2.39)+-(0,0.45)(-0.1072,2.43)+-(0,0.5)(-0.0616,2.07)+-(0,0.45)(-0.0161,4.15)+-(0,0.9)(0.0295,2.09)+-(0,0.45)(0.0750,0.92)+-(0,0.3)(0.1206,0.19)+-(0,0.15)(0.1661,0.04)+-(0,0.05)(0.2117,0.14)+-(0,0.1)(0.2572,0.06)+-(0,0.05)};
\addplot[hv] coordinates {(-0.7819,0)(-0.7819,0.05)(-0.7290,0.05)(-0.7290,0.07)(-0.6761,0.07)(-0.6761,0.1)(-0.6232,0.1)(-0.6232,0.2)(-0.5703,0.2)(-0.5703,0.25)(-0.5174,0.25)(-0.5174,0.3)(-0.4645,0.3)(-0.4645,0.35)(-0.4116,0.35)(-0.4116,0.80)(-0.3587,0.80)(-0.3587,1.45)(-0.3058,1.45)(-0.3058,2.30)(-0.2529,2.30)(-0.2529,2.90)(-0.2000,2.90)(-0.2000,2.78)(-0.1471,2.78)(-0.1471,1.93)(-0.0942,1.93)(-0.0942,1.84)(-0.0413,1.84)(-0.0413,1.57)(0.0116,1.57)(0.0116,0.78)(0.0645,0.78)(0.0645,0.38)(0.1174,0.38)(0.1174,0.2)(0.1703,0.2)(0.1703,0.14)(0.2232,0.14)(0.2232,0.06)(0.2761,0.06)(0.2761,0)};
\addplot[hb] coordinates {(-0.7819,0)(-0.7819,0.05)(-0.6232,0.05)(-0.6232,0.06)(-0.5703,0.06)(-0.5703,0.08)(-0.5174,0.08)(-0.5174,0.09)(-0.4645,0.09)(-0.4645,0.19)(-0.4116,0.19)(-0.4116,0.41)(-0.3587,0.41)(-0.3587,1.01)(-0.3058,1.01)(-0.3058,1.88)(-0.2529,1.88)(-0.2529,2.95)(-0.2000,2.95)(-0.2000,2.74)(-0.1471,2.74)(-0.1471,2.39)(-0.0942,2.39)(-0.0942,2.49)(-0.0413,2.49)(-0.0413,2.51)(0.0116,2.51)(0.0116,1.58)(0.0645,1.58)(0.0645,0.49)(0.1174,0.49)(0.1174,0.125)(0.1703,0.125)(0.1703,0.075)(0.2232,0.075)(0.2232,0.03)(0.2761,0.03)(0.2761,0)};
\addplot[hr] coordinates {(-0.7677,0)(-0.7677,0.12)(-0.7222,0.12)(-0.7222,0.03)(-0.6311,0.03)(-0.6311,0.05)(-0.5399,0.05)(-0.5399,0.14)(-0.4944,0.14)(-0.4944,0.21)(-0.4488,0.21)(-0.4488,0.25)(-0.4033,0.25)(-0.4033,0.27)(-0.3577,0.27)(-0.3577,0.60)(-0.3122,0.60)(-0.3122,1.31)(-0.2666,1.31)(-0.2666,2.07)(-0.2211,2.07)(-0.2211,2.48)(-0.1755,2.48)(-0.1755,2.39)(-0.1300,2.39)(-0.1300,2.43)(-0.0844,2.43)(-0.0844,2.07)(-0.0389,2.07)(-0.0389,4.15)(0.0067,4.15)(0.0067,2.09)(0.0522,2.09)(0.0522,0.92)(0.0978,0.92)(0.0978,0.19)(0.1433,0.19)(0.1433,0.04)(0.1889,0.04)(0.1889,0.14)(0.2344,0.14)(0.2344,0.06)(0.2800,0.06)(0.2800,0)};
\end{axis}
\end{tikzpicture}
\end{document}
